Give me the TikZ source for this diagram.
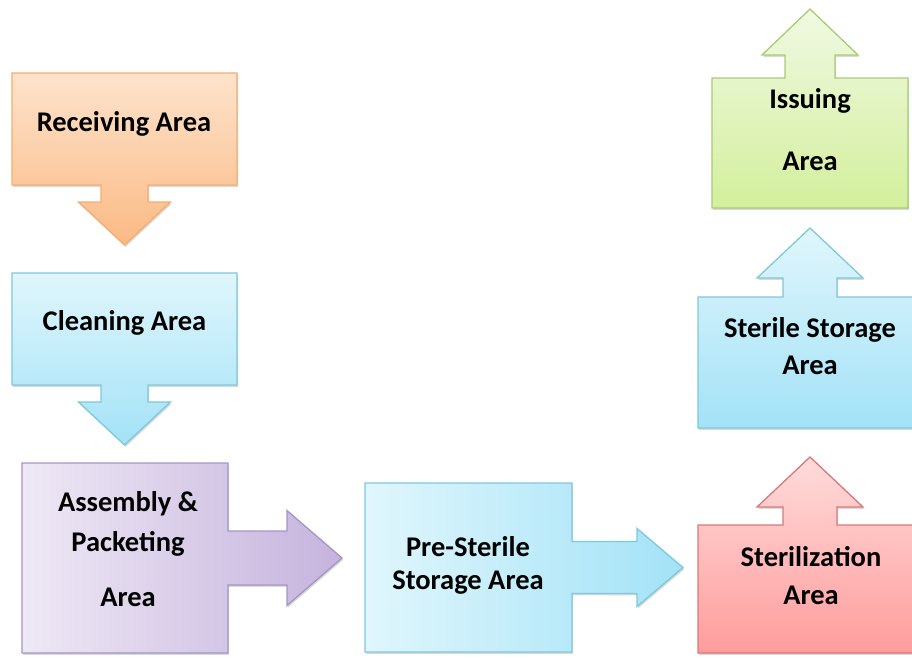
\documentclass[tikz,border=0pt]{standalone}
\usepackage{fontspec}
\setmainfont{Carlito}
\usetikzlibrary{calc,shadows}

\definecolor{recvTop}{HTML}{FDE3CC}
\definecolor{recvBot}{HTML}{FBBA84}
\definecolor{recvLine}{HTML}{F5AD6F}
\definecolor{blueTop}{HTML}{E0F6FC}
\definecolor{blueBot}{HTML}{A3E2F7}
\definecolor{blueLine}{HTML}{7EC8DC}
\definecolor{lilacL}{HTML}{EEE8F5}
\definecolor{lilacR}{HTML}{C5B3DD}
\definecolor{lilacLine}{HTML}{A794C6}
\definecolor{redTop}{HTML}{FFDBDB}
\definecolor{redBot}{HTML}{FF9C9C}
\definecolor{redLine}{HTML}{D97878}
\definecolor{greenTop}{HTML}{F0F9E3}
\definecolor{greenBot}{HTML}{D3EF9C}
\definecolor{greenLine}{HTML}{A8CC73}

\tikzstyle{areabox} = [rectangle, inner sep=0pt, outer sep=0pt]
\tikzstyle{areatext} = [font=\fontsize{28.5}{38}\selectfont\bfseries,
    align=center, text=black]
\tikzstyle{callout} = [line width=1.3pt, line join=miter,
    drop shadow={shadow xshift=1.2pt, shadow yshift=-1.8pt, opacity=0.3}]

\begin{document}
\begin{tikzpicture}[x=1pt, y=-1pt]
    \useasboundingbox (0,0) rectangle (912,657);

    \node[areabox, minimum width=225pt, minimum height=112pt] (receiving) at (124.5,129) {};
    \node[areabox, minimum width=225pt, minimum height=112pt] (cleaning) at (124.5,329) {};
    \node[areabox, minimum width=206pt, minimum height=190pt] (assembly) at (125,558) {};
    \node[areabox, minimum width=207pt, minimum height=169pt] (presterile) at (468.5,567.5) {};
    \node[areabox, minimum width=224pt, minimum height=128pt] (sterilization) at (810,589) {};
    \node[areabox, minimum width=224pt, minimum height=131pt] (sterile) at (810,362.5) {};
    \node[areabox, minimum width=196pt, minimum height=130pt] (issuing) at (810,143) {};

    % down
    \path[callout, draw=recvLine, top color=recvTop, bottom color=recvBot]
        (receiving.north west) -- (receiving.north east) -- (receiving.south east)
        -- ($(receiving.south)+(23.5,0)$) -- ++(0,17) -- ++(22.5,0) -- ++(-46,43)
        -- ++(-46,-43) -- ++(22.5,0) -- ++(0,-17) -- (receiving.south west) -- cycle;
    \path[callout, draw=blueLine, top color=blueTop, bottom color=blueBot]
        (cleaning.north west) -- (cleaning.north east) -- (cleaning.south east)
        -- ($(cleaning.south)+(23.5,0)$) -- ++(0,17) -- ++(22.5,0) -- ++(-46,43)
        -- ++(-46,-43) -- ++(22.5,0) -- ++(0,-17) -- (cleaning.south west) -- cycle;

    % right
    \path[callout, draw=lilacLine, left color=lilacL, right color=lilacR]
        (assembly.north west) -- (assembly.north east) -- ($(assembly.east)+(0,-27)$)
        -- ++(59,0) -- ++(0,-20.5) -- ++(55,47.5) -- ++(-55,47.5) -- ++(0,-20.5)
        -- ++(-59,0) -- (assembly.south east) -- (assembly.south west) -- cycle;
    \path[callout, draw=blueLine, left color=blueTop, right color=blueBot]
        (presterile.north west) -- (presterile.north east) -- ($(presterile.east)+(0,-26)$)
        -- ++(65,0) -- ++(0,-13) -- ++(46,39) -- ++(-46,39) -- ++(0,-13)
        -- ++(-65,0) -- (presterile.south east) -- (presterile.south west) -- cycle;

    % up
    \path[callout, draw=redLine, top color=redTop, bottom color=redBot]
        (sterilization.south west) -- (sterilization.south east) -- (sterilization.north east)
        -- ($(sterilization.north)+(27,0)$) -- ++(0,-18) -- ++(26,0) -- ++(-53,-50)
        -- ++(-53,50) -- ++(26,0) -- ++(0,18) -- (sterilization.north west) -- cycle;
    \path[callout, draw=blueLine, top color=blueTop, bottom color=blueBot]
        (sterile.south west) -- (sterile.south east) -- (sterile.north east)
        -- ($(sterile.north)+(27,0)$) -- ++(0,-19) -- ++(26,0) -- ++(-53,-50)
        -- ++(-53,50) -- ++(26,0) -- ++(0,19) -- (sterile.north west) -- cycle;
    \path[callout, draw=greenLine, top color=greenTop, bottom color=greenBot]
        (issuing.south west) -- (issuing.south east) -- (issuing.north east)
        -- ($(issuing.north)+(25,0)$) -- ++(0,-23) -- ++(23,0) -- ++(-48,-46)
        -- ++(-48,46) -- ++(23,0) -- ++(0,23) -- (issuing.north west) -- cycle;

    \node[areatext] (receivingText) at (124,123.5) {Receiving Area};
    \node[areatext] (cleaningText) at (124.5,323) {Cleaning Area};
    \node[areatext] (assemblyText) at (128,549) {Assembly \&\\[2pt]Packeting\\[17pt]Area};
    \node[areatext] (presterileText) at (468,565) {Pre-Sterile\\[-5pt]Storage Area};
    \node[areatext] (sterilizationText) at (811,576) {Sterilization\\Area};
    \node[areatext] (sterileText) at (810,346.5) {Sterile Storage\\[-1pt]Area};
    \node[areatext] (issuingText) at (810,130) {Issuing\\[24pt]Area};
\end{tikzpicture}
\end{document}
